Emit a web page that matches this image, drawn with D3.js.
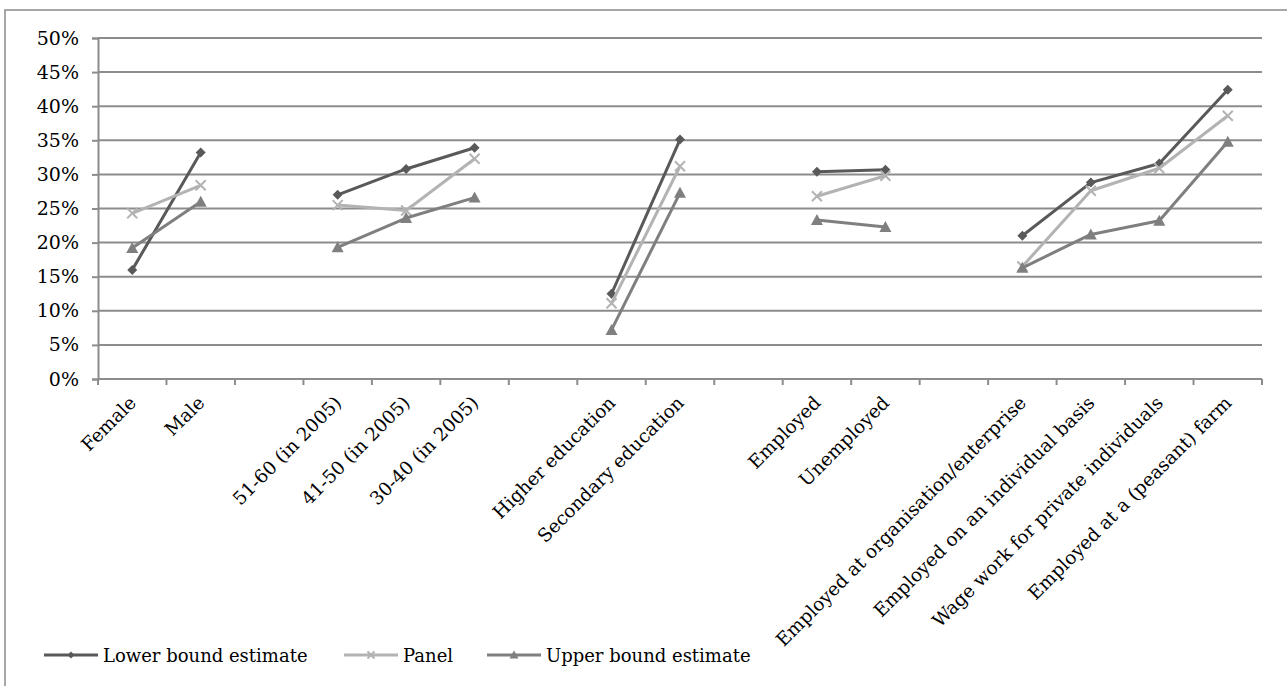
<!DOCTYPE html>
<html><head><meta charset="utf-8">
<script src="https://cdn.jsdelivr.net/npm/d3@7"></script>
<style>body{margin:0;background:#fff;} svg{display:block;}</style>
</head><body>
<svg id="c" width="1287" height="686"></svg>
<script>
const categories = ["Female","Male",null,"51-60 (in 2005)","41-50 (in 2005)","30-40 (in 2005)",null,
  "Higher education","Secondary education",null,"Employed","Unemployed",null,
  "Employed at organisation/enterprise","Employed on an individual basis","Wage work for private individuals","Employed at a (peasant) farm"];
const lowerBound = [0.160,0.332,null,0.270,0.308,0.339,null,0.125,0.351,null,0.304,0.307,null,0.210,0.288,0.316,0.424];
const panel      = [0.243,0.284,null,0.255,0.247,0.323,null,0.111,0.312,null,0.268,0.298,null,0.165,0.276,0.309,0.386];
const upperBound = [0.192,0.260,null,0.193,0.236,0.266,null,0.072,0.273,null,0.233,0.223,null,0.163,0.212,0.232,0.348];
const yTicks = [0,0.05,0.10,0.15,0.20,0.25,0.30,0.35,0.40,0.45,0.50];
const seriesNames = ["Lower bound estimate","Panel","Upper bound estimate"];

const series = [
  {name: seriesNames[0], values: lowerBound, color: "#595959", marker: "diamond"},
  {name: seriesNames[1], values: panel, color: "#b3b3b3", marker: "cross"},
  {name: seriesNames[2], values: upperBound, color: "#7f7f7f", marker: "triangle"}
];

const svg = d3.select("#c");
const FONT = "'DejaVu Serif', serif";
const pLeft = 98, pRight = 1262, pTop = 38, pBottom = 379;

// outer border (only left/top visible)
svg.append("rect").attr("x",5).attr("y",10).attr("width",1300).attr("height",700)
  .attr("fill","none").attr("stroke","#8a8a8a").attr("stroke-width",1.5);

const x = d3.scaleBand().domain(d3.range(categories.length)).range([pLeft,pRight]).padding(0);
const cx = i => x(i) + x.bandwidth()/2;
const y = d3.scaleLinear().domain([0,0.5]).range([pBottom,pTop]);

// gridlines
svg.append("g").selectAll("line").data(yTicks.filter(t=>t>0)).join("line")
  .attr("x1",pLeft).attr("x2",pRight).attr("y1",d=>y(d)).attr("y2",d=>y(d))
  .attr("stroke","#8c8c8c").attr("stroke-width",2);

// y axis
const yAxis = d3.axisLeft(y).tickValues(yTicks).tickFormat(d3.format(".0%")).tickSize(6).tickPadding(13);
const gy = svg.append("g").attr("transform",`translate(${pLeft},0)`).call(yAxis);
gy.select(".domain").attr("stroke","#8c8c8c").attr("stroke-width",2);
gy.selectAll(".tick line").attr("stroke","#8c8c8c").attr("stroke-width",2);
gy.selectAll(".tick text").attr("font-family",FONT).attr("font-size",19).attr("fill","#000");

// x axis line and ticks at boundaries
const bounds = d3.range(categories.length).map(i=>x(i)).concat([pRight]);
svg.append("line").attr("x1",pLeft).attr("x2",pRight).attr("y1",pBottom).attr("y2",pBottom)
  .attr("stroke","#8c8c8c").attr("stroke-width",2);
svg.append("g").selectAll("line").data(bounds).join("line")
  .attr("x1",d=>d).attr("x2",d=>d).attr("y1",pBottom).attr("y2",pBottom+6)
  .attr("stroke","#8c8c8c").attr("stroke-width",2);

// x labels
svg.append("g").selectAll("text").data(categories.map((c,i)=>({c,i})).filter(d=>d.c)).join("text")
  .attr("transform",d=>`translate(${cx(d.i)+5},${pBottom+25}) rotate(-45)`)
  .attr("text-anchor","end").attr("font-family",FONT).attr("font-size",18.5).attr("fill","#000")
  .text(d=>d.c);

// markers
function drawMarker(g, type, color, px, py, s) {
  if (type==="diamond") {
    g.append("path").attr("d",`M${px},${py-s}L${px+s},${py}L${px},${py+s}L${px-s},${py}Z`).attr("fill",color);
  } else if (type==="cross") {
    g.append("path").attr("d",`M${px-s},${py-s}L${px+s},${py+s}M${px-s},${py+s}L${px+s},${py-s}`)
      .attr("stroke",color).attr("stroke-width",2).attr("fill","none");
  } else {
    g.append("path").attr("d",`M${px},${py-s-1}L${px+s+1},${py+s}L${px-s-1},${py+s}Z`).attr("fill",color);
  }
}

const line = d3.line().defined(d=>d.v!==null).x(d=>cx(d.i)).y(d=>y(d.v));
series.forEach(s=>{
  const pts = s.values.map((v,i)=>({v,i}));
  svg.append("path").datum(pts).attr("d",line).attr("fill","none")
    .attr("stroke",s.color).attr("stroke-width",3).attr("stroke-linejoin","round");
  const g = svg.append("g");
  pts.filter(d=>d.v!==null).forEach(d=>drawMarker(g,s.marker,s.color,cx(d.i),y(d.v),5));
});

// legend
const legendX = [44, 344, 487];
series.forEach((s,k)=>{
  const lx = legendX[k], ly = 655;
  svg.append("line").attr("x1",lx).attr("x2",lx+54).attr("y1",ly).attr("y2",ly)
    .attr("stroke",s.color).attr("stroke-width",3);
  const g = svg.append("g");
  drawMarker(g,s.marker,s.color,lx+27,ly,3.5);
  svg.append("text").attr("x",lx+59).attr("y",ly+7).attr("font-family",FONT).attr("font-size",18)
    .attr("fill","#000").text(s.name);
});
</script>
</body></html>
